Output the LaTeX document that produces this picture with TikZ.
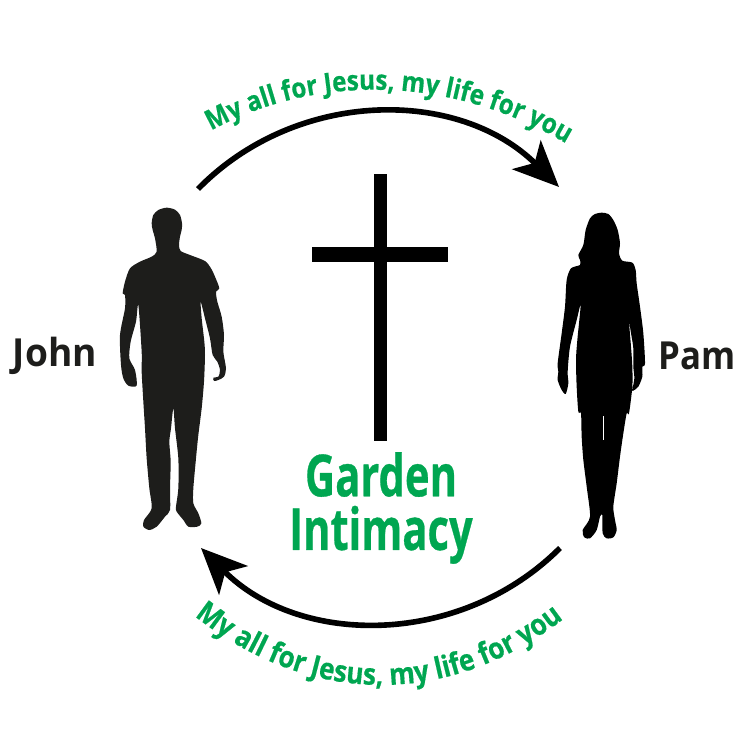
\documentclass[tikz,border=0pt]{standalone}
\usepackage{fontspec}
\setmainfont{Open Sans}
\newfontfamily\heavyfont[UprightFont={* Bold}, FakeBold=0.6]{Open Sans}
\newfontfamily\mottofont[UprightFont={* Bold}, FakeBold=0.5, FakeStretch=0.88]{Open Sans}
\usepackage{tikz}
\usetikzlibrary{arrows.meta, decorations.text}
\definecolor{gardengreen}{HTML}{00A651}
\definecolor{johnblack}{HTML}{1D1D1B}
\tikzset{
  loveline/.style = {line width=3.2pt, -{Stealth[length=26pt, width=23pt, inset=6.5pt]}},
  crossbar/.style = {fill=black, draw=none},
  lbl/.style      = {font=\bfseries\fontsize{22}{26}\selectfont, text=johnblack, inner sep=0pt},
  gardenlbl/.style = {font=\heavyfont\fontsize{33}{30.5}\selectfont, text=gardengreen, align=center, xscale=0.72, inner sep=0pt},
}
\newcommand{\mottotext}[1]{|\mottofont\fontsize{#1}{18}\selectfont\color{gardengreen}|My all for Jesus, my life for you}

\begin{document}
\begin{tikzpicture}[x=0.02cm, y=-0.02cm]
  \useasboundingbox (0,0) rectangle (750,750);

  % cross
  \fill[crossbar] (374,174) rectangle (387,441);
  \fill[crossbar] (312,247) rectangle (448,262);

  % man
  \begin{scope}[shift={(110,195)}, scale=0.33333]
    \fill[johnblack] plot[smooth cycle, tension=0.45] coordinates {
      (170,38) (195,44) (210,60) (216,85) (215,105) (210,125) (207,150) (212,168)
      (240,180) (285,198) (303,220) (315,245) (328,280) (318,290) (322,320) (335,365)
      (342,420) (340,470) (348,520) (342,545) (325,555) (312,558) (310,548) (325,545)
      (330,525) (322,500) (308,480) (300,430) (285,370) (272,320) (275,370) (283,440)
      (285,480) (282,560) (275,640) (265,720) (258,790) (250,880) (250,925) (265,955)
      (274,985) (262,995) (235,995) (220,975) (200,950) (198,935) (205,880) (205,790)
      (195,700) (190,640) (183,700) (178,740) (182,800) (180,880) (180,945) (165,965)
      (140,995) (118,1005) (100,995) (102,975) (125,940) (118,880) (110,790) (105,700)
      (100,620) (95,530) (95,470) (85,330) (78,380) (62,440) (58,490) (75,525)
      (80,572) (55,572) (40,550) (33,510) (30,420) (45,340) (45,300) (38,295)
      (45,260) (60,220) (90,200) (125,185) (140,170) (135,130) (128,105) (125,85)
      (130,60) (145,45)};
  \end{scope}

  % woman
  \begin{scope}[shift={(545,200)}, scale=0.33333]
    \fill[black] plot[smooth cycle, tension=0.45] coordinates {
      (170,38) (190,42) (205,60) (218,90) (225,130) (222,160) (232,182) (262,188)
      (272,210) (275,250) (285,320) (295,400) (300,490) (292,500) (292,530) (280,560)
      (265,572) (262,570) (268,535) (265,500) (265,445) (258,400) (252,365) (258,440)
      (262,500) (262,560) (252,640) (245,640) (235,700) (225,770) (215,850) (205,920)
      (210,960) (215,990) (205,1012) (185,1015) (173,1000) (172,945) (165,950) (155,990)
      (135,1015) (118,1012) (113,990) (135,950) (125,860) (115,780) (110,710) (108,640)
      (100,635) (95,560) (93,480) (97,420) (107,315) (95,360) (75,440) (68,515)
      (70,550) (62,582) (50,570) (38,540) (40,515) (38,490) (50,400) (60,320)
      (65,240) (78,205) (105,195) (105,180) (100,165) (115,135) (122,90) (135,55)
      (150,42)};
    \draw[white, line width=0.3pt] (176,648) -- (176,720);
  \end{scope}

  \node[lbl, xscale=0.96] (john) at (55,356) {John};
  \node[lbl, xscale=0.9] (pam) at (697,356) {Pam};
  \node[gardenlbl] (garden) at (381,508) {Garden\\Intimacy};

  \coordinate (johntop) at (198,189);
  \coordinate (pamtop) at (559,187);
  \coordinate (pambot) at (560,548);
  \coordinate (johnbot) at (201,548);

  \draw[loveline] (johntop) .. controls (297,88) and (459,88) .. (pamtop);
  \draw[loveline] (pambot) .. controls (461,647) and (300,647) .. (johnbot);

  % mottos
  \path[decorate, decoration={text along path, text align=center, text/.expand once={\mottotext{15.7}}}]
    (205,134) .. controls (315,71) and (455,75) .. (572,147);
  \path[decorate, decoration={text along path, text align=center, text/.expand once={\mottotext{16.9}}}]
    (192,614) .. controls (310,708) and (450,708) .. (566,617);
\end{tikzpicture}
\end{document}
